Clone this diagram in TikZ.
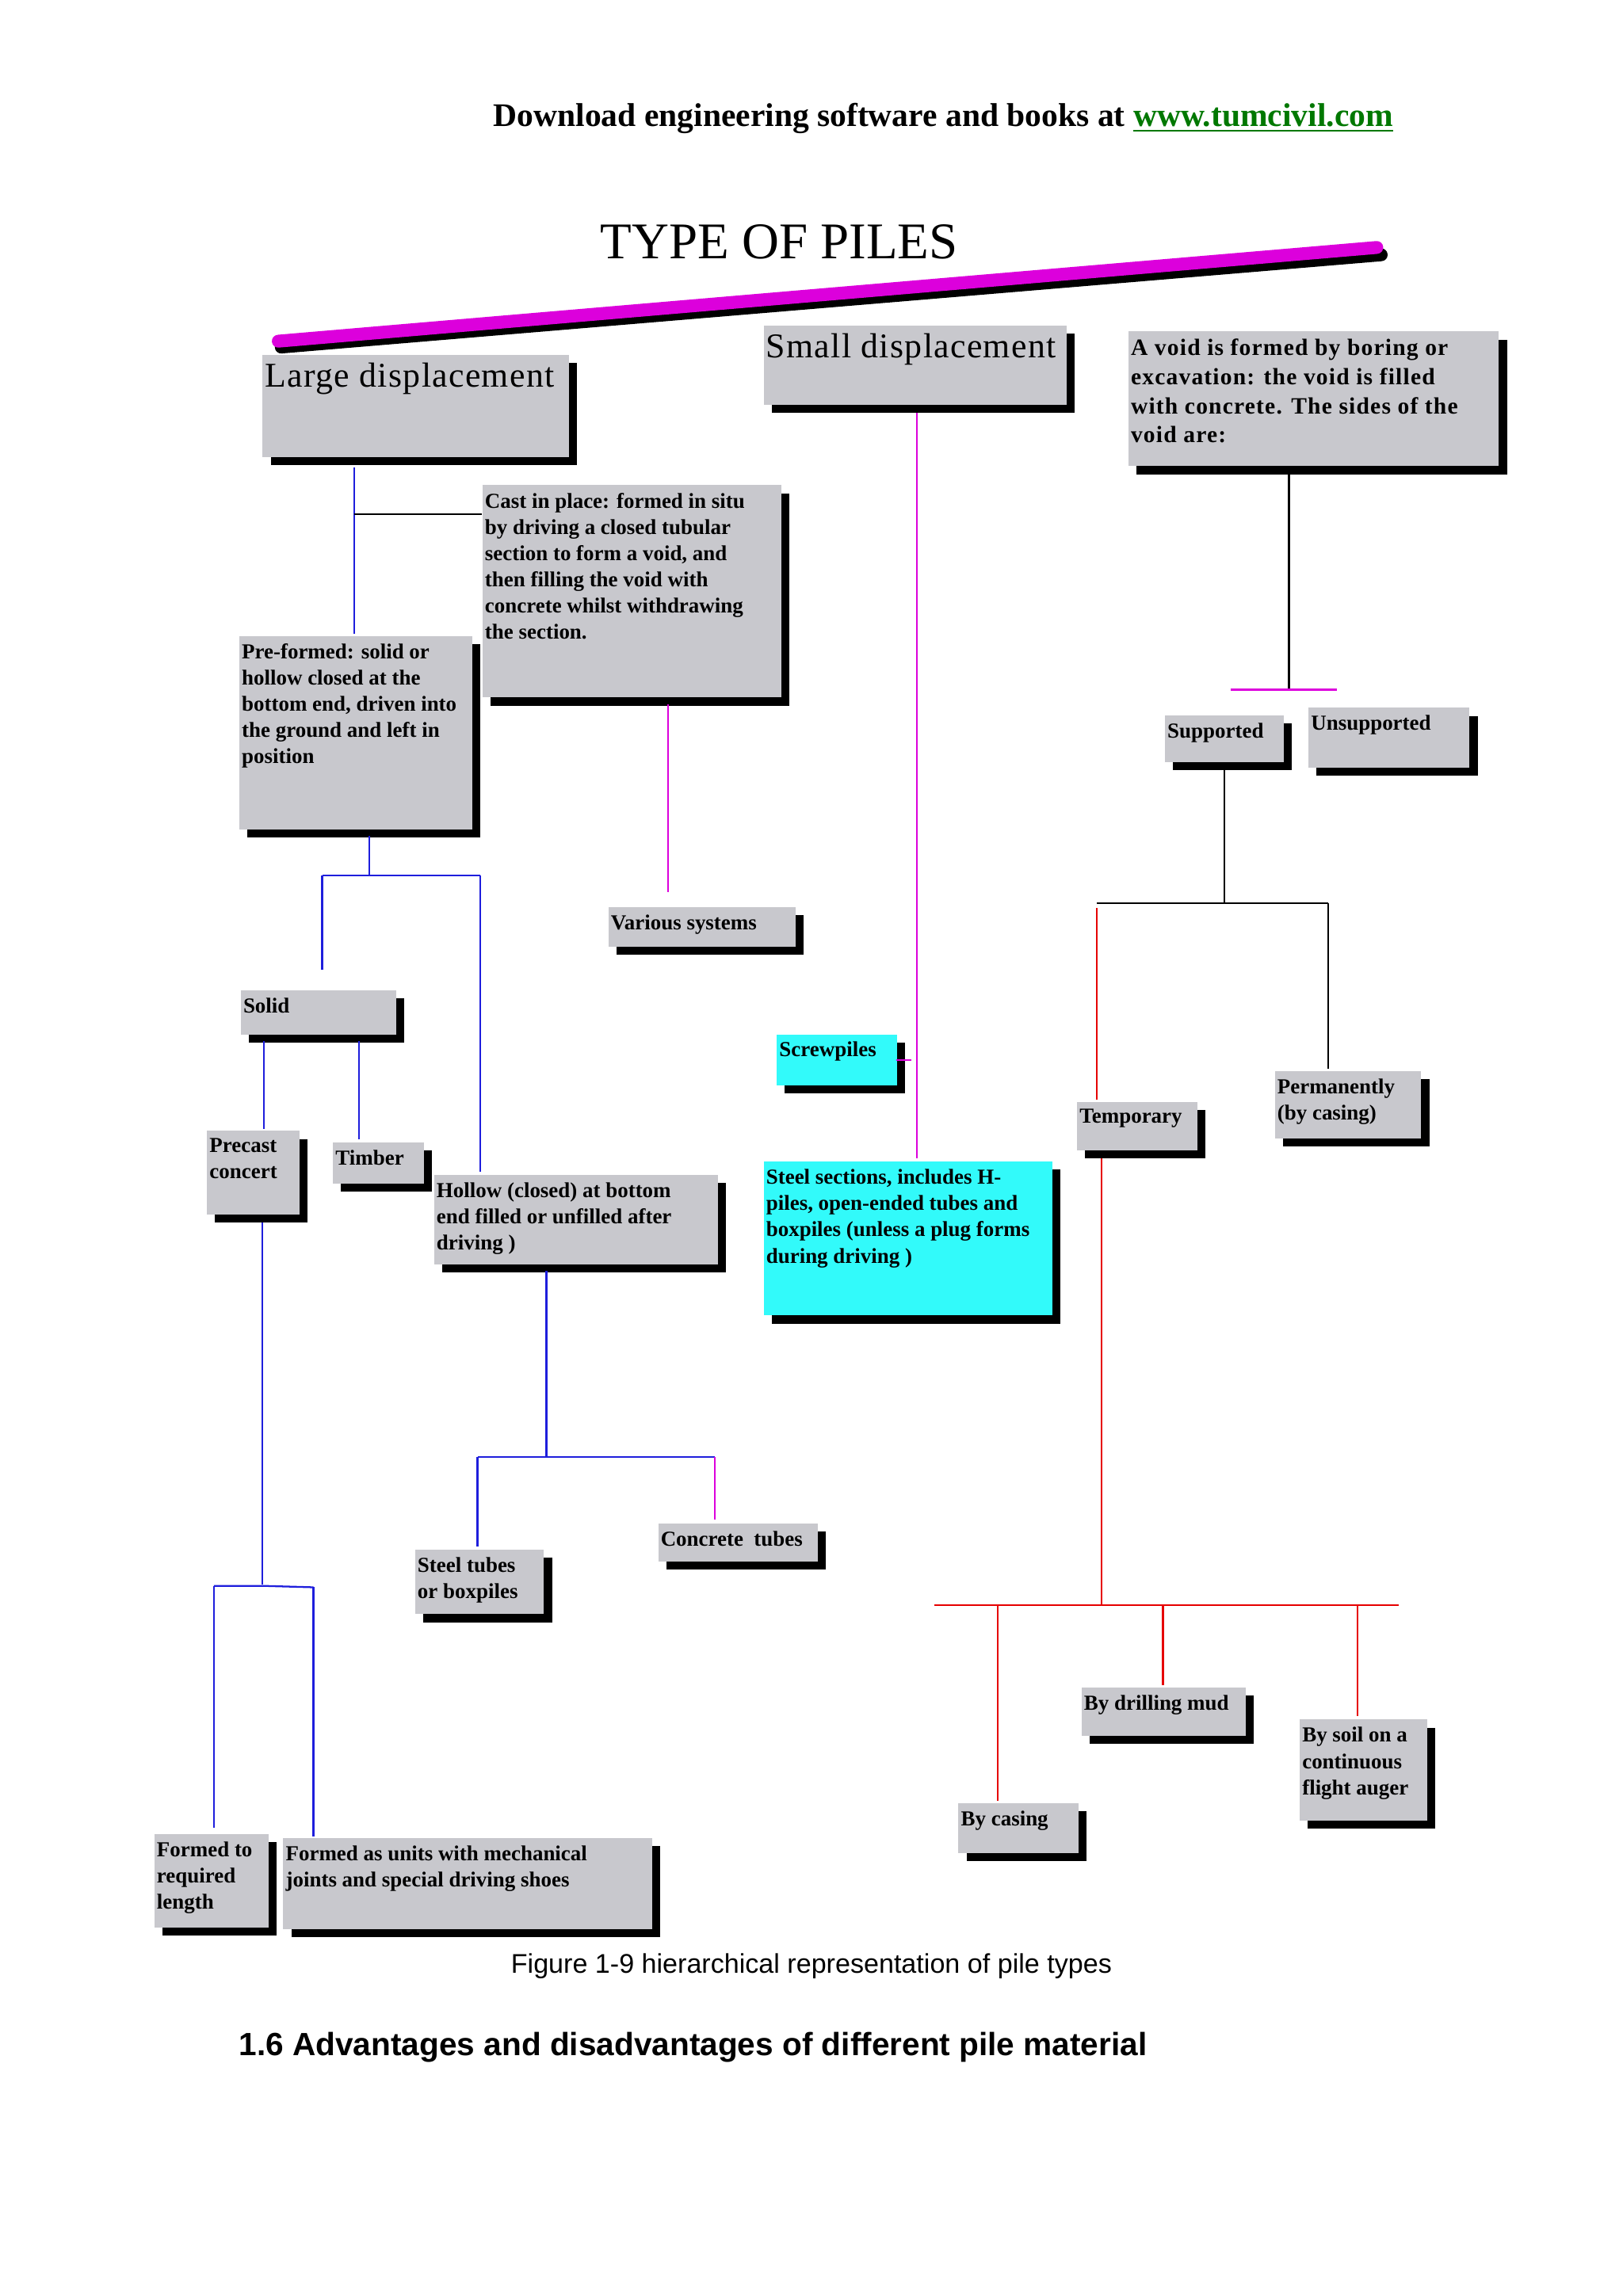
\documentclass[tikz,border=0pt]{standalone}
\usepackage{fontspec}
\setmainfont{Liberation Serif}
\setsansfont{Liberation Sans}
\usetikzlibrary{shadows}
\definecolor{boxgray}{RGB}{200,200,205}
\definecolor{boxcyan}{RGB}{50,250,250}
\definecolor{lnblue}{RGB}{30,30,220}
\definecolor{lnmag}{RGB}{220,0,220}
\definecolor{lnred}{RGB}{230,0,0}
\definecolor{linkgreen}{RGB}{0,120,0}
\tikzset{
  pbox/.style={draw=none,fill=boxgray,inner sep=0pt,anchor=north west,
    drop shadow={shadow xshift=0.11cm,shadow yshift=-0.11cm,fill=black,opacity=1}},
  ptext/.style={anchor=north west,align=left,inner xsep=1pt,inner ysep=3pt,font=\bfseries\fontsize{8.3}{10.2}\selectfont},
  bigtext/.style={font=\normalfont\fontsize{13.5}{16}\selectfont\addfontfeature{LetterSpace=3}},
  voidtext/.style={font=\bfseries\fontsize{9.1}{11.3}\selectfont\addfontfeature{LetterSpace=4}},
  bl/.style={draw=lnblue,line width=0.7pt},
  mg/.style={draw=lnmag,line width=0.7pt},
  rd/.style={draw=lnred,line width=0.7pt},
  bk/.style={draw=black,line width=0.7pt}
}
\newcommand\pilebox[8][boxgray]{%
  \node[pbox,fill=#1,minimum width={(#5-#3)*0.02cm},minimum height={(#6-#4)*0.02cm}] (#2) at (#3,#4) {};
  \node[ptext,#7] at (#2.north west) {#8};}
\begin{document}
\begin{tikzpicture}[x=0.02cm,y=-0.02cm]
\useasboundingbox[fill=white] (0,0) rectangle (1108,1568);
\node[font=\bfseries\fontsize{12.8}{14}\selectfont] (hdr) at (644,81) {Download engineering software and books at \textcolor{linkgreen}{\underline{www.tumcivil.com}}};
\node[font=\fontsize{20}{22}\selectfont] (title) at (532,165) {TYPE OF PILES};
\draw[line width=5pt,black,line cap=round] (192,237) -- (943,174);
\draw[line width=5pt,lnmag,line cap=round] (190,233) -- (940,169);

\pilebox{large}{179}{242}{388}{312}{bigtext}{Large displacement}
\pilebox{small}{521}{222}{728}{276}{bigtext}{Small displacement}
\pilebox{void}{770}{226}{1023}{318}{voidtext}{A void is formed by boring or\\ excavation: the void is filled\\ with concrete. The sides of the\\ void are:}
\pilebox{cast}{329}{331}{533}{476}{}{Cast in place: formed in situ\\ by driving a closed tubular\\ section to form a void, and\\ then filling the void with\\ concrete whilst withdrawing\\ the section.}
\pilebox{pref}{163}{434}{322}{566}{}{Pre-formed: solid or\\ hollow closed at the\\ bottom end, driven into\\ the ground and left in\\ position}
\pilebox{various}{415}{619}{543}{646}{}{Various systems}
\pilebox{supp}{795}{488}{876}{520}{}{Supported}
\pilebox{unsupp}{893}{483}{1003}{524}{}{Unsupported}
\pilebox{solid}{164}{676}{270}{706}{}{Solid}
\pilebox[boxcyan]{screw}{530}{706}{612}{741}{}{Screwpiles}
\pilebox{temp}{735}{752}{817}{785}{}{Temporary}
\pilebox{perm}{870}{731}{970}{777}{}{Permanently\\ (by casing)}
\pilebox{precast}{141}{772}{204}{829}{}{Precast\\ concert}
\pilebox{timber}{227}{780}{289}{808}{}{Timber}
\pilebox{hollow}{296}{802}{490}{863}{}{Hollow (closed) at bottom\\ end filled or unfilled after\\ driving )}
\pilebox[boxcyan]{steelsec}{521}{793}{718}{898}{}{Steel sections, includes H-\\ piles, open-ended tubes and\\ boxpiles (unless a plug forms\\ during driving )}
\pilebox{conc}{449}{1040}{558}{1066}{}{Concrete\ \ tubes}
\pilebox{steelt}{283}{1058}{371}{1102}{}{Steel tubes\\ or boxpiles}
\pilebox{mud}{738}{1152}{850}{1185}{}{By drilling mud}
\pilebox{soil}{887}{1174}{974}{1243}{}{By soil on a\\ continuous\\ flight auger}
\pilebox{casing}{654}{1231}{736}{1265}{}{By casing}
\pilebox{formreq}{105}{1252}{183}{1316}{}{Formed to\\ required\\ length}
\pilebox{formunit}{193}{1255}{445}{1317}{}{Formed as units with mechanical\\ joints and special driving shoes}

% connectors
\draw[bl] (242,319) -- (242,433);
\draw[bk] (242,351) -- (cast.west |- 242,351);
\draw[bl] (252,571) -- (252,598);
\draw[bl] (220,598) -- (328,598);
\draw[bl] (220,598) -- (220,662);
\draw[bl] (328,598) -- (328,800);
\draw[bl] (180,711) -- (180,771);
\draw[bl] (245,711) -- (245,778);
\draw[bl] (179,835) -- (179,1082);
\draw[bl] (146,1083) -- (179,1083) -- (214,1084);
\draw[bl] (146,1083) -- (146,1248);
\draw[bl] (214,1084) -- (214,1254);
\draw[bl] (373,868) -- (373,995);
\draw[bl] (326,995) -- (488,995);
\draw[bl] (326,995) -- (326,1056);
\draw[mg] (488,995) -- (488,1038);
\draw[mg] (456,481) -- (456,609);
\draw[mg] (626,282) -- (626,791);
\draw[mg] (612,724) -- (622,724);
\draw[bk] (880,323) -- (880,471);
\draw[mg] (840,471) -- (913,471);
\draw[bk] (836,525) -- (836,617);
\draw[bk] (749,617) -- (907,617);
\draw[bk] (907,617) -- (907,730);
\draw[rd] (749,620) -- (749,751);
\draw[rd] (752,791) -- (752,1096);
\draw[rd] (638,1096) -- (955,1096);
\draw[rd] (681,1096) -- (681,1230);
\draw[rd] (794,1096) -- (794,1151);
\draw[rd] (927,1096) -- (927,1172);

\node[font=\sffamily\fontsize{10.5}{12}\selectfont] (cap) at (554,1343) {Figure 1-9 hierarchical representation of pile types};
\node[font=\sffamily\bfseries\fontsize{12.5}{14}\selectfont,anchor=west] (sec) at (157,1398) {1.6 Advantages and disadvantages of different pile material};
\end{tikzpicture}
\end{document}
